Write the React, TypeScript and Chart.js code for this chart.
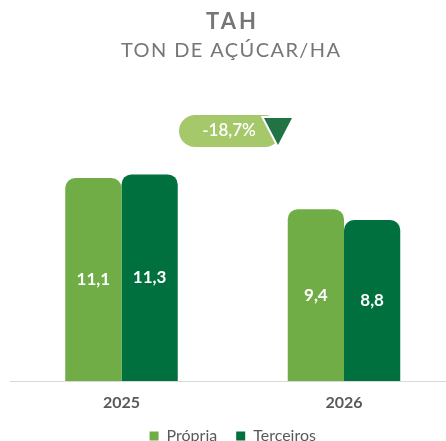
import { useEffect, useRef } from 'react';
import { Chart, registerables } from 'chart.js';

Chart.register(...registerables);

const categories = ['2025', '2026'];
const propria = [11.1, 9.4];
const terceiros = [11.3, 8.8];
const seriesNames = ['Própria', 'Terceiros'];
const titleText = 'TAH';
const subtitleText = 'TON DE AÇÚCAR/HA';
const variationText = '-18,7%';

const FONT = 'Lato, "Noto Sans", sans-serif';
const LIGHT = '#70ad47';
const DARK = '#00703f';
const TITLE_GRAY = '#767676';

const fmt = (v: number) => v.toFixed(1).replace('.', ',');

function spacedText(ctx: any, text: string, cx: number, baseline: number, ls: number) {
  ctx.letterSpacing = `${ls}px`;
  ctx.textAlign = 'left';
  ctx.textBaseline = 'alphabetic';
  const w = ctx.measureText(text).width;
  ctx.fillText(text, cx - (w - ls) / 2, baseline);
  ctx.letterSpacing = '0px';
}

const overlay = {
  id: 'overlay',
  beforeDatasetsDraw(chart: any) {
    const { ctx, chartArea, width } = chart;
    ctx.save();
    ctx.strokeStyle = '#d9d9d9';
    ctx.lineWidth = 1;
    ctx.beginPath();
    ctx.moveTo(10, chartArea.bottom + 0.5);
    ctx.lineTo(width, chartArea.bottom + 0.5);
    ctx.stroke();
    ctx.restore();
  },
  afterDatasetsDraw(chart: any) {
    const { ctx } = chart;
    ctx.save();
    // titles
    ctx.fillStyle = TITLE_GRAY;
    ctx.font = `bold 22px ${FONT}`;
    spacedText(ctx, titleText, 231, 29, 3);
    ctx.font = `20px ${FONT}`;
    spacedText(ctx, subtitleText, 230.5, 57, 1.4);
    // value labels centred in bars
    ctx.fillStyle = '#ffffff';
    ctx.font = `bold 17px ${FONT}`;
    ctx.textAlign = 'center';
    ctx.textBaseline = 'middle';
    chart.data.datasets.forEach((ds: any, di: number) => {
      const meta = chart.getDatasetMeta(di);
      meta.data.forEach((bar: any, i: number) => {
        const y = (bar.y + bar.base) / 2;
        ctx.fillText(fmt(ds.data[i]), bar.x, y);
      });
    });
    // variation badge
    ctx.fillStyle = '#a5c86b';
    ctx.beginPath();
    ctx.roundRect(179, 115, 102, 32, 16);
    ctx.fill();
    ctx.fillStyle = '#ffffff';
    ctx.font = `600 17px ${FONT}`;
    ctx.textAlign = 'center';
    ctx.textBaseline = 'middle';
    ctx.fillText(variationText, 229, 131);
    ctx.beginPath();
    ctx.moveTo(264, 118);
    ctx.lineTo(292, 118);
    ctx.lineTo(278, 145);
    ctx.closePath();
    ctx.strokeStyle = '#ffffff';
    ctx.lineWidth = 4;
    ctx.lineJoin = 'miter';
    ctx.stroke();
    ctx.fillStyle = '#217346';
    ctx.fill();
    ctx.restore();
  },
};

export default function App() {
  const ref = useRef<HTMLCanvasElement>(null);
  useEffect(() => {
    const canvas = ref.current!;
    const radius = { topLeft: 10, topRight: 10, bottomLeft: 0, bottomRight: 0 };
    const common = {
      borderWidth: 0,
      borderRadius: radius,
      borderSkipped: 'start',
      categoryPercentage: 0.5056,
      barPercentage: 1,
      clip: false,
    };
    const chart = new Chart(canvas, {
      type: 'bar',
      data: {
        labels: categories,
        datasets: [
          { label: seriesNames[0], data: propria, backgroundColor: LIGHT, ...common },
          { label: seriesNames[1], data: terceiros, backgroundColor: DARK, ...common },
        ],
      },
      options: {
        responsive: false,
        animation: false,
        devicePixelRatio: 1,
        layout: { padding: { top: 161.6, left: 121.5, right: 102, bottom: 0 } },
        scales: {
          x: {
            offset: false,
            grid: { display: false, drawTicks: false },
            border: { display: false },
            ticks: {
              padding: 12,
              color: '#595959',
              font: { family: FONT, size: 16, weight: 'bold' },
            },
            afterFit: (s: any) => {
              s.height = 28;
            },
          },
          y: { display: false, min: 0, max: 12 },
        },
        plugins: {
          title: { display: false },
          legend: {
            position: 'bottom',
            labels: {
              boxWidth: 9,
              boxHeight: 9,
              padding: 19,
              color: '#595959',
              font: { family: FONT, size: 16 },
            },
          },
          tooltip: { enabled: false },
        },
      } as any,
      plugins: [overlay],
    });
    return () => chart.destroy();
  }, []);
  return (
    <div
      style={{
        position: 'fixed',
        left: 0,
        top: 0,
        width: 446,
        height: 441,
        overflow: 'hidden',
        background: '#ffffff',
      }}
    >
      <canvas ref={ref} width={446} height={454} style={{ display: 'block' }} />
    </div>
  );
}
